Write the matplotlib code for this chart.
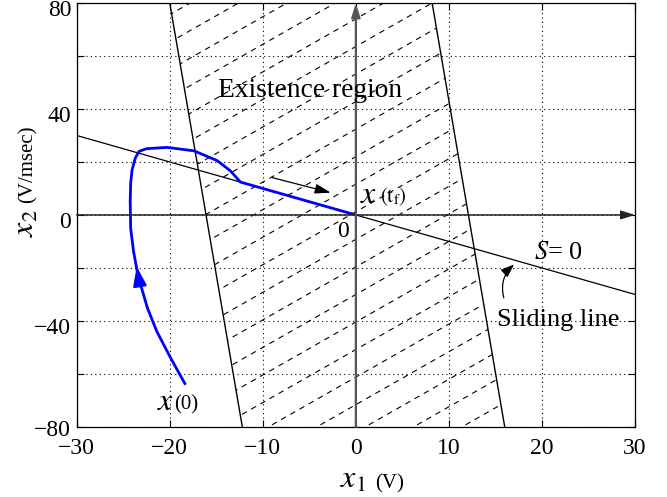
import matplotlib
matplotlib.use("Agg")
import matplotlib.pyplot as plt
import matplotlib.transforms as mtransforms
import numpy as np
from matplotlib.patches import Polygon

plt.rcParams['font.family'] = ['Liberation Serif', 'DejaVu Serif']
plt.rcParams['mathtext.fontset'] = 'stix'

# axis ranges / ticks
x1_ticks = [-30, -20, -10, 0, 10, 20, 30]
x2_ticks = [-80, -60, -40, -20, 0, 20, 40, 60, 80]
x2_labels = ['\u221280', '', '\u221240', '', '0', '', '40', '', '80']

# sliding line S = 0  (x2 = -x1)
slide_x1 = [-30, 30]
slide_x2 = [30, -30]

# boundaries of the existence region
bound_x2 = [80, -80]
left_bound_x1 = [-20.0, -12.2]
right_bound_x1 = [8.2, 16.0]

# hatch lines inside the region: x2 = hatch_slope * x1 + c
hatch_slope = 2.0
hatch_offsets = [1.2 + 10.4 * k for k in range(-14, 12)]

# state trajectory from x(0) to x(tf)
traj_x1 = [-18.3, -19.9, -21.4, -22.4, -23.4, -23.9, -24.2, -24.25, -24.2,
           -24.05, -23.7, -23.3, -22.5, -20.3, -17.4, -14.9, -13.5, -12.4, -6.2, 0.0]
traj_x2 = [-64.1, -54.0, -43.9, -35.1, -23.1, -13.6, -5.0, 5.0, 12.0,
           17.0, 21.5, 24.0, 25.0, 25.5, 24.2, 20.5, 16.7, 12.4, 6.2, 0.0]

fig = plt.figure(figsize=(6.67, 4.97), dpi=100)
ax = fig.add_axes([0.115, 0.141, 0.837, 0.853])

# hatched existence region
region = Polygon([(left_bound_x1[0], bound_x2[0]), (right_bound_x1[0], bound_x2[0]),
                  (right_bound_x1[1], bound_x2[1]), (left_bound_x1[1], bound_x2[1])],
                 closed=True, facecolor='none', edgecolor='none')
ax.add_patch(region)
hx = np.array([-30, 30])
for c in hatch_offsets:
    ln, = ax.plot(hx, hatch_slope * hx + c, color='k', lw=0.8, dashes=(5, 4.5))
    ln.set_clip_path(region)

ax.plot(left_bound_x1, bound_x2, color='k', lw=1.0)
ax.plot(right_bound_x1, bound_x2, color='k', lw=1.0)
ax.plot(slide_x1, slide_x2, color='k', lw=0.9)

# coordinate axes with arrows
ax.annotate('', xy=(30, 0), xytext=(-30, 0), annotation_clip=False,
            arrowprops=dict(arrowstyle='-|>,head_length=0.7,head_width=0.22',
                            color='#222222', lw=1.1, mutation_scale=12,
                            shrinkA=0, shrinkB=0))
ax.annotate('', xy=(0, 80), xytext=(0, -80), annotation_clip=False,
            arrowprops=dict(arrowstyle='-|>,head_length=0.7,head_width=0.22',
                            color='#555555', lw=1.6, mutation_scale=12,
                            shrinkA=0, shrinkB=0))

# trajectory
ax.plot(traj_x1, traj_x2, color='#0000ff', lw=2.0, solid_capstyle='butt',
        solid_joinstyle='round')
ax.annotate('', xy=(-23.55, -19.5), xytext=(-23.2, -27),
            arrowprops=dict(arrowstyle='-|>,head_length=0.6,head_width=0.21',
                            color='#0000ff', lw=1.5, mutation_scale=20,
                            shrinkA=0, shrinkB=0))

# direction arrow along sliding line
ax.annotate('', xy=(-2.7, 8.4), xytext=(-9.0, 14.1),
            arrowprops=dict(arrowstyle='-|>,head_length=0.8,head_width=0.25',
                            color='k', lw=0.9, mutation_scale=12,
                            shrinkA=0, shrinkB=0))

# curved pointer to sliding line
ax.annotate('', xy=(17.0, -18.7), xytext=(15.9, -31.3),
            arrowprops=dict(arrowstyle='-|>,head_length=0.8,head_width=0.3',
                            color='k', lw=0.9, mutation_scale=10,
                            shrinkA=0, shrinkB=0,
                            connectionstyle='arc3,rad=-0.3'))

# texts
ax.text(-14.8, 44.4, 'Existence region', fontsize=19.8, va='baseline')
ax.text(19.2, -16.7, r'$S$= 0', fontsize=19, va='baseline')
ax.text(15.2, -42.0, 'Sliding line', fontsize=19, va='baseline')
ax.text(-1.4, -6.4, '0', fontsize=17, ha='center', va='center')
ax.text(-21.4, -73.5, r'$x$', fontsize=23, va='baseline')
ax.text(-19.5, -73.5, '(0)', fontsize=15, va='baseline')
ax.text(0.5, 4.5, r'$x$', fontsize=23, va='baseline')
ax.text(2.6, 4.8, r'$(\mathrm{t}_{\mathrm{f}})$', fontsize=15, va='baseline')

# axis labels
fig.text(0.510, 0.018, r'$x_1$', fontsize=23, ha='left', va='baseline')
fig.text(0.562, 0.018, '(V)', fontsize=15, ha='left', va='baseline')
fig.text(0.051, 0.523, r'$x_2$', fontsize=23, rotation=90, rotation_mode='anchor',
         ha='left', va='baseline')
fig.text(0.049, 0.592, '(V/msec)', fontsize=15, rotation=90, rotation_mode='anchor',
         ha='left', va='baseline')

ax.set_xlim(-30, 30)
ax.set_ylim(-80, 80)
ax.set_xticks(x1_ticks)
ax.set_yticks(x2_ticks)
ax.set_yticklabels(x2_labels)
ax.tick_params(direction='in', top=True, right=True, length=5, width=0.8,
               labelsize=17)
ax.tick_params(axis='x', pad=8)
ax.tick_params(axis='y', pad=4)
ax.grid(True, color='k', linestyle=(0, (1, 3)), lw=0.8)
for s in ax.spines.values():
    s.set_linewidth(0.9)

# labels sit a little below their ticks, as in the original
for lab in ax.get_yticklabels():
    dy = -1 if lab.get_text() == '\u221280' else -5
    shift = mtransforms.ScaledTranslation(0, dy / 100, fig.dpi_scale_trans)
    lab.set_transform(lab.get_transform() + shift)

fig.savefig('out.png', dpi=100)
